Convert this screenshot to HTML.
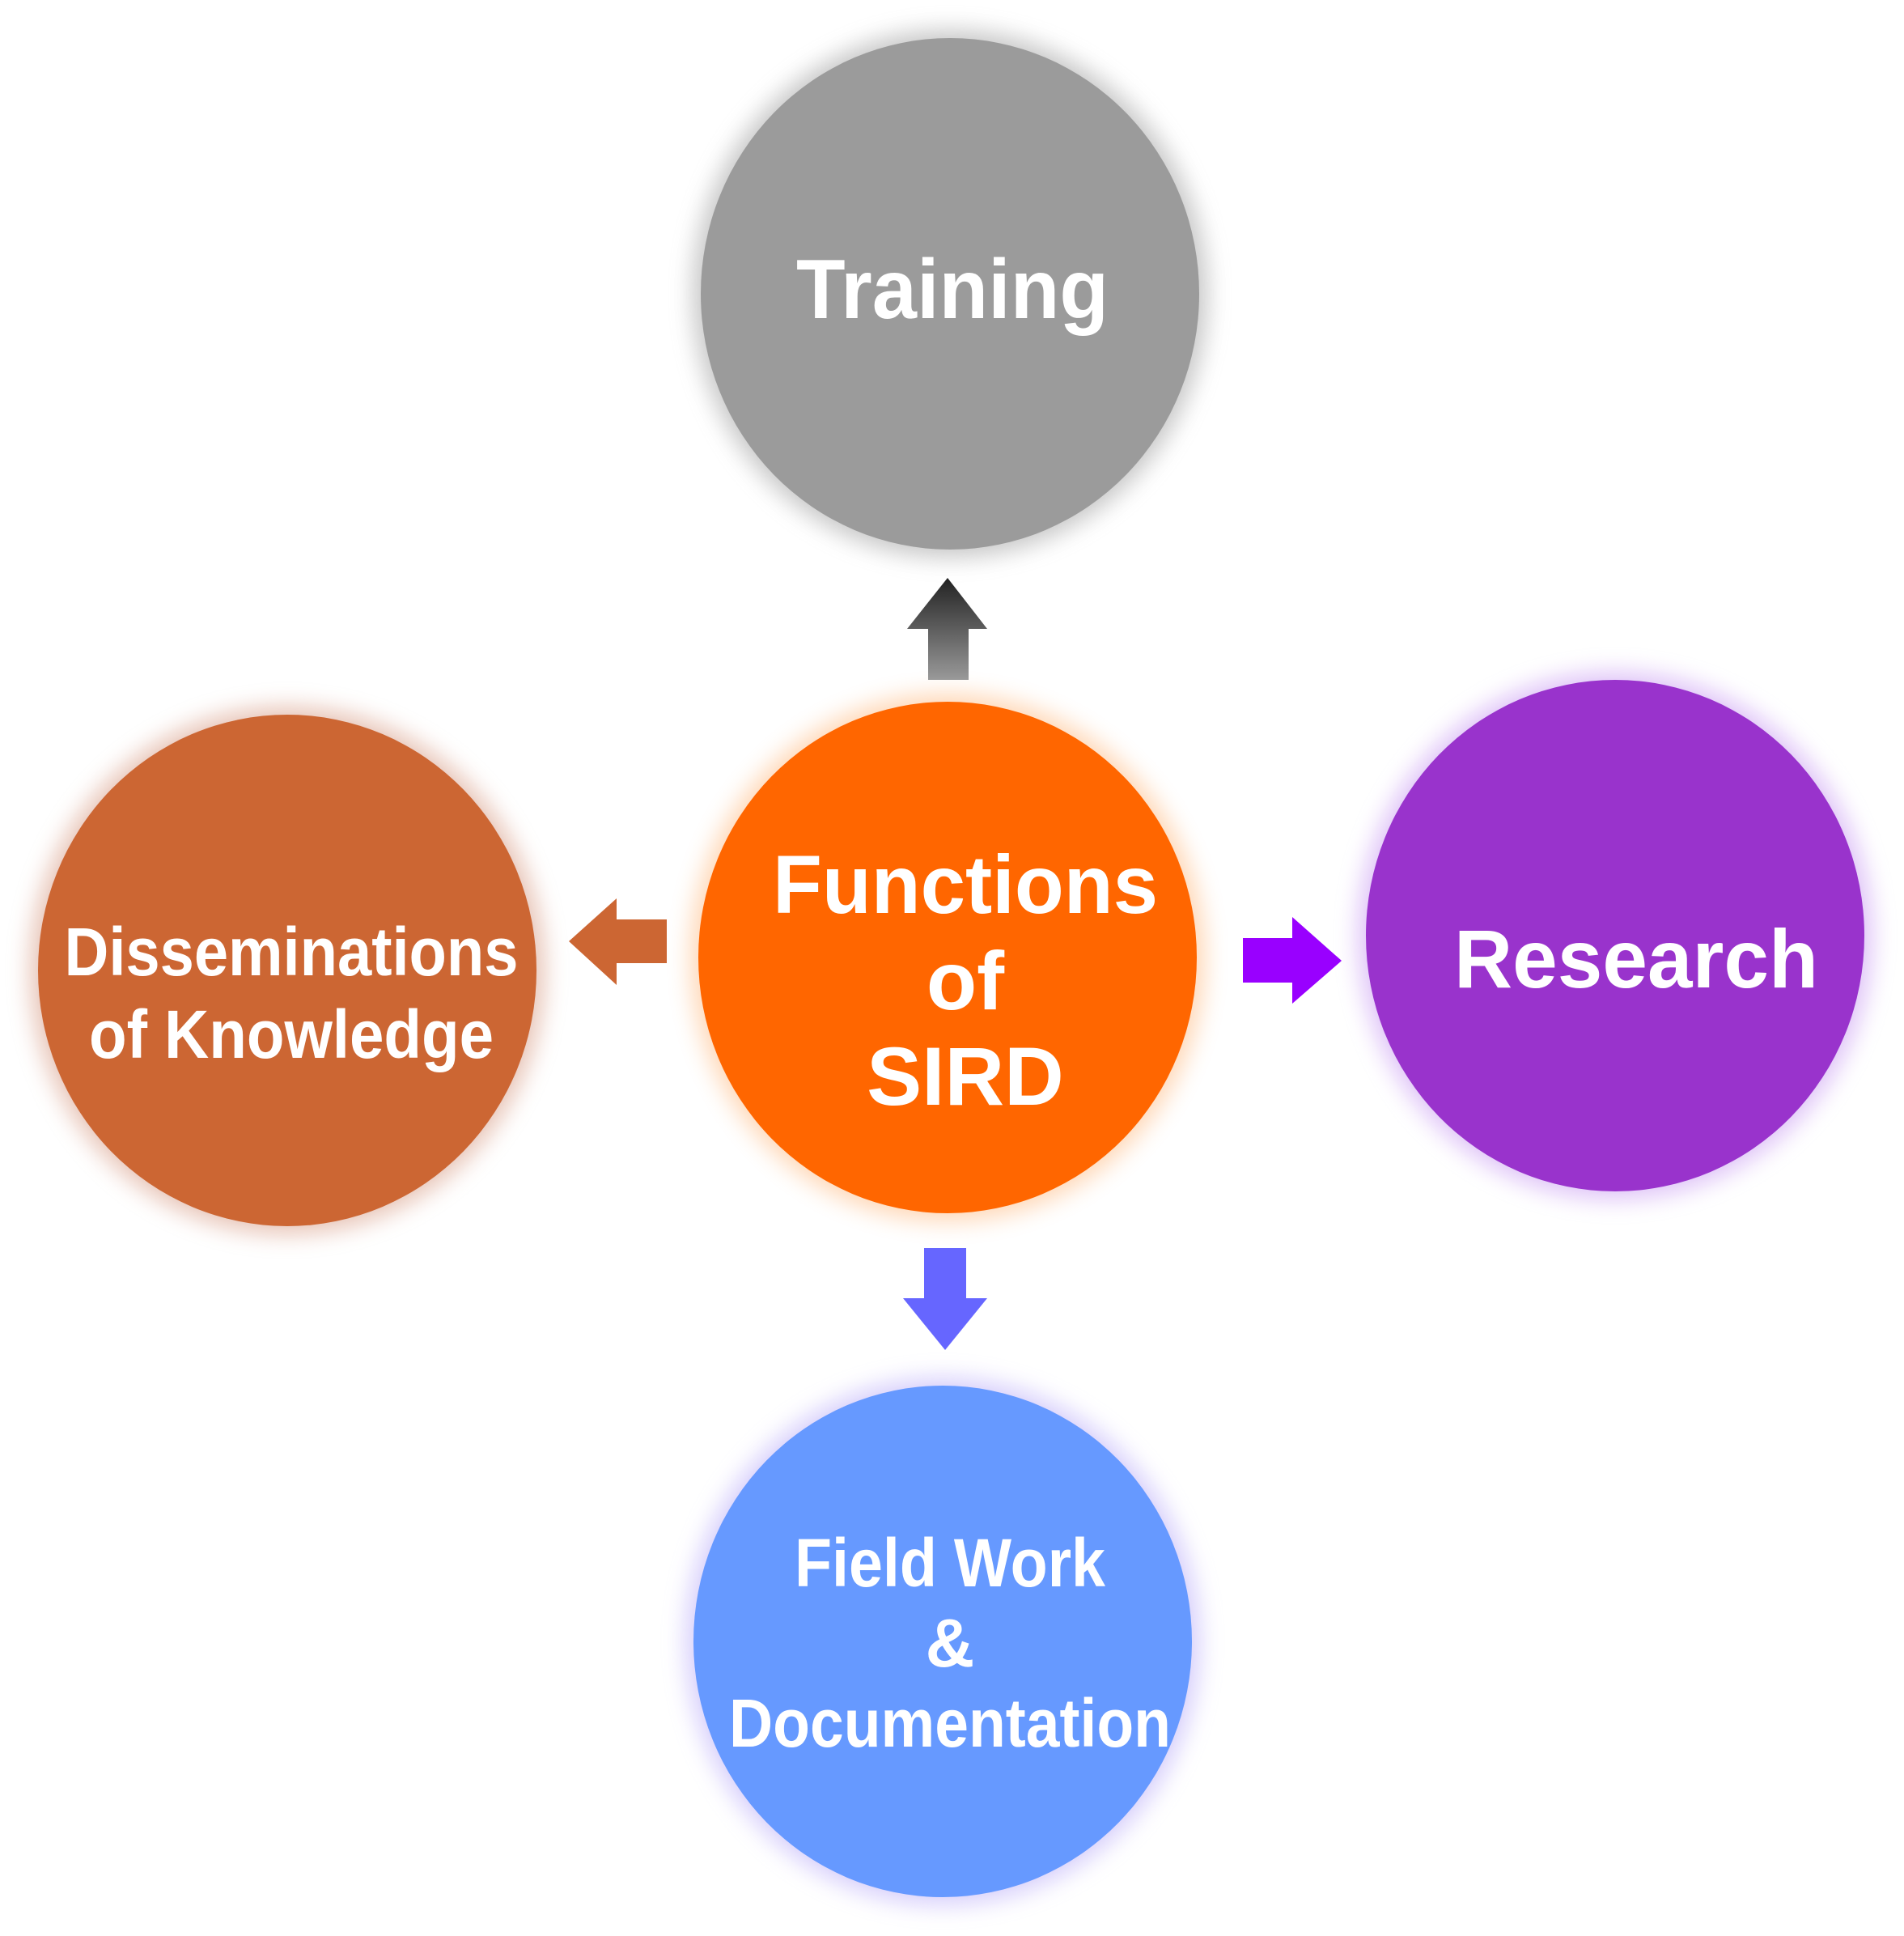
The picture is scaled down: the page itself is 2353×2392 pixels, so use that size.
<!DOCTYPE html>
<html><head><meta charset="utf-8"><style>html,body{margin:0;padding:0;background:#fff}svg{display:block}</style></head>
<body>
<svg width="2353" height="2392" viewBox="0 0 2353 2392" xmlns="http://www.w3.org/2000/svg" font-family="Liberation Sans, sans-serif" font-weight="bold">
<defs>
<filter id="g" x="-30%" y="-30%" width="160%" height="160%"><feGaussianBlur stdDeviation="14"/></filter>
<linearGradient id="ug" x1="0" y1="0" x2="0" y2="1"><stop offset="0" stop-color="#222"/><stop offset="1" stop-color="#999"/></linearGradient>
</defs>
<rect width="2353" height="2392" fill="#fff"/>
<ellipse cx="1174" cy="363" rx="318" ry="326" fill="#9a9a9a" opacity="0.55" filter="url(#g)"/>
<ellipse cx="1171" cy="1183" rx="318" ry="326" fill="#ffa860" opacity="0.45" filter="url(#g)"/>
<ellipse cx="1996" cy="1156" rx="318" ry="326" fill="#c08af0" opacity="0.5" filter="url(#g)"/>
<ellipse cx="355" cy="1199" rx="318" ry="326" fill="#d08a70" opacity="0.5" filter="url(#g)"/>
<ellipse cx="1165" cy="2028" rx="318" ry="326" fill="#b0a0f8" opacity="0.5" filter="url(#g)"/>
<ellipse cx="1174" cy="363" rx="308" ry="316" fill="#9b9b9b"/>
<ellipse cx="1171" cy="1183" rx="308" ry="316" fill="#ff6600"/>
<ellipse cx="1996" cy="1156" rx="308" ry="316" fill="#9933cc"/>
<ellipse cx="355" cy="1199" rx="308" ry="316" fill="#cc6633"/>
<ellipse cx="1165" cy="2028" rx="308" ry="316" fill="#6699ff"/>
<polygon points="1147,840 1197,840 1197,777 1220,777 1171,714 1121,777 1147,777" fill="url(#ug)"/>
<polygon points="824,1136 824,1190 762,1190 762,1217 703,1163 762,1110 762,1136" fill="#cc6633"/>
<polygon points="1536,1159 1597,1159 1597,1133 1658,1187 1597,1240 1597,1214 1536,1214" fill="#9900ff"/>
<polygon points="1142,1542 1194,1542 1194,1604 1220,1604 1168,1668 1116,1604 1142,1604" fill="#6666ff"/>
<g fill="#fff" text-anchor="middle">
<text x="1177" y="393" font-size="104" textLength="386" lengthAdjust="spacingAndGlyphs">Training</text>
<text x="1193" y="1128" font-size="102" textLength="476" lengthAdjust="spacingAndGlyphs">Functions</text>
<text x="1193" y="1247" font-size="102">of</text>
<text x="1193" y="1365" font-size="102">SIRD</text>
<text x="2022" y="1220" font-size="102" textLength="450" lengthAdjust="spacingAndGlyphs">Research</text>
<text x="360" y="1205" font-size="84" textLength="561" lengthAdjust="spacingAndGlyphs">Disseminations</text>
<text x="360" y="1307" font-size="84" textLength="500" lengthAdjust="spacingAndGlyphs">of Knowledge</text>
<text x="1174" y="1960" font-size="84" textLength="384" lengthAdjust="spacingAndGlyphs">Field Work</text>
<text x="1174" y="2059" font-size="84">&amp;</text>
<text x="1174" y="2158" font-size="84" textLength="546" lengthAdjust="spacingAndGlyphs">Documentation</text>
</g>
</svg>
</body></html>
